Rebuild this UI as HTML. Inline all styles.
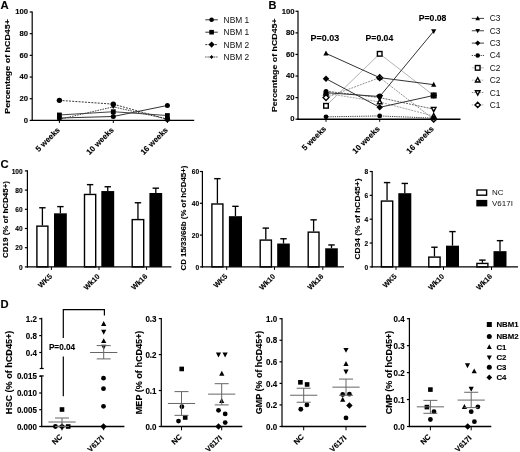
<!DOCTYPE html>
<html><head><meta charset="utf-8"><title>Figure</title>
<style>
html,body{margin:0;padding:0;background:#fff;}
body{width:520px;height:452px;overflow:hidden;}
svg{display:block;font-family:"Liberation Sans", sans-serif;filter:blur(0.3px);}
</style></head>
<body>
<svg width="520" height="452" viewBox="0 0 520 452">
<rect width="520" height="452" fill="#fff"/>
<text x="0.50" y="8.70" font-size="11.3" font-weight="bold" text-anchor="start" fill="#000" stroke="#000" stroke-width="0.12">A</text>
<line x1="32.20" y1="11.40" x2="32.20" y2="121.00" stroke="#000" stroke-width="1.2" stroke-linecap="butt"/>
<line x1="29.70" y1="120.40" x2="32.20" y2="120.40" stroke="#000" stroke-width="1.2" stroke-linecap="butt"/>
<text x="28.00" y="122.61" font-size="8.09" font-weight="bold" text-anchor="end" textLength="4.28" lengthAdjust="spacingAndGlyphs" fill="#000" stroke="#000" stroke-width="0.12">0</text>
<line x1="29.70" y1="98.72" x2="32.20" y2="98.72" stroke="#000" stroke-width="1.2" stroke-linecap="butt"/>
<text x="28.00" y="100.93" font-size="8.09" font-weight="bold" text-anchor="end" textLength="8.56" lengthAdjust="spacingAndGlyphs" fill="#000" stroke="#000" stroke-width="0.12">20</text>
<line x1="29.70" y1="77.04" x2="32.20" y2="77.04" stroke="#000" stroke-width="1.2" stroke-linecap="butt"/>
<text x="28.00" y="79.25" font-size="8.09" font-weight="bold" text-anchor="end" textLength="8.56" lengthAdjust="spacingAndGlyphs" fill="#000" stroke="#000" stroke-width="0.12">40</text>
<line x1="29.70" y1="55.36" x2="32.20" y2="55.36" stroke="#000" stroke-width="1.2" stroke-linecap="butt"/>
<text x="28.00" y="57.57" font-size="8.09" font-weight="bold" text-anchor="end" textLength="8.56" lengthAdjust="spacingAndGlyphs" fill="#000" stroke="#000" stroke-width="0.12">60</text>
<line x1="29.70" y1="33.68" x2="32.20" y2="33.68" stroke="#000" stroke-width="1.2" stroke-linecap="butt"/>
<text x="28.00" y="35.89" font-size="8.09" font-weight="bold" text-anchor="end" textLength="8.56" lengthAdjust="spacingAndGlyphs" fill="#000" stroke="#000" stroke-width="0.12">80</text>
<line x1="29.70" y1="12.00" x2="32.20" y2="12.00" stroke="#000" stroke-width="1.2" stroke-linecap="butt"/>
<text x="28.00" y="14.21" font-size="8.09" font-weight="bold" text-anchor="end" textLength="12.84" lengthAdjust="spacingAndGlyphs" fill="#000" stroke="#000" stroke-width="0.12">100</text>
<line x1="31.60" y1="120.40" x2="194.20" y2="120.40" stroke="#000" stroke-width="1.4" stroke-linecap="butt"/>
<line x1="59.40" y1="120.40" x2="59.40" y2="123.00" stroke="#000" stroke-width="1.0" stroke-linecap="butt"/>
<line x1="113.30" y1="120.40" x2="113.30" y2="123.00" stroke="#000" stroke-width="1.0" stroke-linecap="butt"/>
<line x1="167.40" y1="120.40" x2="167.40" y2="123.00" stroke="#000" stroke-width="1.0" stroke-linecap="butt"/>
<text x="9.88" y="66.40" font-size="8.0" font-weight="bold" text-anchor="middle" transform="rotate(-90 9.88 66.40)" textLength="94.5" lengthAdjust="spacingAndGlyphs" fill="#000" stroke="#000" stroke-width="0.12">Percentage of hCD45+</text>
<text x="60.50" y="130.50" font-size="8.0" font-weight="bold" text-anchor="end" transform="rotate(-45 60.50 130.50)" fill="#000" stroke="#000" stroke-width="0.12">5 weeks</text>
<text x="114.40" y="130.50" font-size="8.0" font-weight="bold" text-anchor="end" transform="rotate(-45 114.40 130.50)" fill="#000" stroke="#000" stroke-width="0.12">10 weeks</text>
<text x="168.50" y="130.50" font-size="8.0" font-weight="bold" text-anchor="end" transform="rotate(-45 168.50 130.50)" fill="#000" stroke="#000" stroke-width="0.12">16 weeks</text>
<polyline points="59.40,118.02 113.30,116.50 167.40,105.44" fill="none" stroke="#333" stroke-width="1.0"/>
<polyline points="59.40,114.98 113.30,111.73 167.40,115.52" fill="none" stroke="#444" stroke-width="1.0"/>
<polyline points="59.40,100.35 113.30,104.14 167.40,119.32" fill="none" stroke="#222" stroke-width="0.9" stroke-dasharray="2,1.2"/>
<polyline points="59.40,119.32 113.30,106.85 167.40,119.10" fill="none" stroke="#333" stroke-width="0.9" stroke-dasharray="1.6,1"/>
<circle cx="59.40" cy="118.02" r="2.50" fill="#000"/>
<circle cx="113.30" cy="116.50" r="2.50" fill="#000"/>
<circle cx="167.40" cy="105.44" r="2.50" fill="#000"/>
<rect x="57.00" y="112.58" width="4.80" height="4.80" fill="#000"/>
<rect x="110.90" y="109.33" width="4.80" height="4.80" fill="#000"/>
<rect x="165.00" y="113.12" width="4.80" height="4.80" fill="#000"/>
<circle cx="59.40" cy="100.35" r="2.70" fill="#000"/>
<circle cx="113.30" cy="104.14" r="2.70" fill="#000"/>
<circle cx="167.40" cy="119.32" r="2.70" fill="#000"/>
<circle cx="59.40" cy="119.32" r="1.2" fill="#000"/>
<line x1="57.40" y1="119.32" x2="61.40" y2="119.32" stroke="#000" stroke-width="0.8" stroke-linecap="butt"/>
<line x1="59.40" y1="117.32" x2="59.40" y2="121.32" stroke="#000" stroke-width="0.8" stroke-linecap="butt"/>
<circle cx="113.30" cy="106.85" r="1.2" fill="#000"/>
<line x1="111.30" y1="106.85" x2="115.30" y2="106.85" stroke="#000" stroke-width="0.8" stroke-linecap="butt"/>
<line x1="113.30" y1="104.85" x2="113.30" y2="108.85" stroke="#000" stroke-width="0.8" stroke-linecap="butt"/>
<circle cx="167.40" cy="119.10" r="1.2" fill="#000"/>
<line x1="165.40" y1="119.10" x2="169.40" y2="119.10" stroke="#000" stroke-width="0.8" stroke-linecap="butt"/>
<line x1="167.40" y1="117.10" x2="167.40" y2="121.10" stroke="#000" stroke-width="0.8" stroke-linecap="butt"/>
<line x1="205.30" y1="19.80" x2="217.80" y2="19.80" stroke="#333" stroke-width="1.0" stroke-linecap="butt"/>
<circle cx="211.60" cy="19.80" r="2.30" fill="#000"/>
<text x="223.60" y="22.80" font-size="8.4" font-weight="normal" text-anchor="start" fill="#111">NBM 1</text>
<line x1="205.30" y1="32.20" x2="217.80" y2="32.20" stroke="#333" stroke-width="1.0" stroke-linecap="butt"/>
<rect x="209.30" y="29.90" width="4.60" height="4.60" fill="#000"/>
<text x="223.60" y="35.20" font-size="8.4" font-weight="normal" text-anchor="start" fill="#111">NBM 1</text>
<line x1="205.30" y1="44.60" x2="217.80" y2="44.60" stroke="#333" stroke-width="1.0" stroke-dasharray="2,1.2" stroke-linecap="butt"/>
<polygon points="211.60,41.50 214.70,44.60 211.60,47.70 208.50,44.60" fill="#000"/>
<text x="223.60" y="47.60" font-size="8.4" font-weight="normal" text-anchor="start" fill="#111">NBM 2</text>
<line x1="205.30" y1="57.00" x2="217.80" y2="57.00" stroke="#333" stroke-width="1.0" stroke-dasharray="1.2,1" stroke-linecap="butt"/>
<circle cx="211.60" cy="57.00" r="1.2" fill="#000"/>
<line x1="209.60" y1="57.00" x2="213.60" y2="57.00" stroke="#000" stroke-width="0.8" stroke-linecap="butt"/>
<line x1="211.60" y1="55.00" x2="211.60" y2="59.00" stroke="#000" stroke-width="0.8" stroke-linecap="butt"/>
<text x="223.60" y="60.00" font-size="8.4" font-weight="normal" text-anchor="start" fill="#111">NBM 2</text>
<text x="268.60" y="8.80" font-size="11.0" font-weight="bold" text-anchor="start" fill="#000" stroke="#000" stroke-width="0.12">B</text>
<line x1="298.00" y1="10.70" x2="298.00" y2="119.80" stroke="#000" stroke-width="1.2" stroke-linecap="butt"/>
<line x1="295.50" y1="119.20" x2="298.00" y2="119.20" stroke="#000" stroke-width="1.2" stroke-linecap="butt"/>
<text x="294.50" y="121.41" font-size="8.09" font-weight="bold" text-anchor="end" textLength="4.28" lengthAdjust="spacingAndGlyphs" fill="#000" stroke="#000" stroke-width="0.12">0</text>
<line x1="295.50" y1="97.62" x2="298.00" y2="97.62" stroke="#000" stroke-width="1.2" stroke-linecap="butt"/>
<text x="294.50" y="99.83" font-size="8.09" font-weight="bold" text-anchor="end" textLength="8.56" lengthAdjust="spacingAndGlyphs" fill="#000" stroke="#000" stroke-width="0.12">20</text>
<line x1="295.50" y1="76.04" x2="298.00" y2="76.04" stroke="#000" stroke-width="1.2" stroke-linecap="butt"/>
<text x="294.50" y="78.25" font-size="8.09" font-weight="bold" text-anchor="end" textLength="8.56" lengthAdjust="spacingAndGlyphs" fill="#000" stroke="#000" stroke-width="0.12">40</text>
<line x1="295.50" y1="54.46" x2="298.00" y2="54.46" stroke="#000" stroke-width="1.2" stroke-linecap="butt"/>
<text x="294.50" y="56.67" font-size="8.09" font-weight="bold" text-anchor="end" textLength="8.56" lengthAdjust="spacingAndGlyphs" fill="#000" stroke="#000" stroke-width="0.12">60</text>
<line x1="295.50" y1="32.88" x2="298.00" y2="32.88" stroke="#000" stroke-width="1.2" stroke-linecap="butt"/>
<text x="294.50" y="35.09" font-size="8.09" font-weight="bold" text-anchor="end" textLength="8.56" lengthAdjust="spacingAndGlyphs" fill="#000" stroke="#000" stroke-width="0.12">80</text>
<line x1="295.50" y1="11.30" x2="298.00" y2="11.30" stroke="#000" stroke-width="1.2" stroke-linecap="butt"/>
<text x="294.50" y="13.51" font-size="8.09" font-weight="bold" text-anchor="end" textLength="12.84" lengthAdjust="spacingAndGlyphs" fill="#000" stroke="#000" stroke-width="0.12">100</text>
<line x1="297.40" y1="119.20" x2="460.50" y2="119.20" stroke="#000" stroke-width="1.4" stroke-linecap="butt"/>
<line x1="326.00" y1="119.20" x2="326.00" y2="121.80" stroke="#000" stroke-width="1.0" stroke-linecap="butt"/>
<line x1="379.70" y1="119.20" x2="379.70" y2="121.80" stroke="#000" stroke-width="1.0" stroke-linecap="butt"/>
<line x1="433.70" y1="119.20" x2="433.70" y2="121.80" stroke="#000" stroke-width="1.0" stroke-linecap="butt"/>
<text x="276.74" y="65.20" font-size="7.9" font-weight="bold" text-anchor="middle" transform="rotate(-90 276.74 65.20)" textLength="93.7" lengthAdjust="spacingAndGlyphs" fill="#000" stroke="#000" stroke-width="0.12">Percentage of hCD45+</text>
<text x="326.70" y="129.30" font-size="8.0" font-weight="bold" text-anchor="end" transform="rotate(-45 326.70 129.30)" fill="#000" stroke="#000" stroke-width="0.12">5 weeks</text>
<text x="380.40" y="129.30" font-size="8.0" font-weight="bold" text-anchor="end" transform="rotate(-45 380.40 129.30)" fill="#000" stroke="#000" stroke-width="0.12">10 weeks</text>
<text x="434.40" y="129.30" font-size="8.0" font-weight="bold" text-anchor="end" transform="rotate(-45 434.40 129.30)" fill="#000" stroke="#000" stroke-width="0.12">16 weeks</text>
<text x="310.60" y="41.40" font-size="8.5" font-weight="bold" text-anchor="start" textLength="28.6" lengthAdjust="spacingAndGlyphs" fill="#000" stroke="#000" stroke-width="0.12">P=0.03</text>
<text x="365.60" y="41.40" font-size="8.5" font-weight="bold" text-anchor="start" textLength="27.6" lengthAdjust="spacingAndGlyphs" fill="#000" stroke="#000" stroke-width="0.12">P=0.04</text>
<text x="418.80" y="20.80" font-size="8.5" font-weight="bold" text-anchor="start" textLength="27.6" lengthAdjust="spacingAndGlyphs" fill="#000" stroke="#000" stroke-width="0.12">P=0.08</text>
<polyline points="326.00,105.82 379.70,53.81 433.70,95.46" fill="none" stroke="#aaa" stroke-width="0.9"/>
<polyline points="326.00,93.30 379.70,101.94 433.70,116.07" fill="none" stroke="#999" stroke-width="0.9" stroke-dasharray="2,1"/>
<polyline points="326.00,97.62 379.70,77.66 433.70,119.20" fill="none" stroke="#888" stroke-width="0.9" stroke-dasharray="2,1"/>
<polyline points="326.00,91.15 379.70,97.62 433.70,109.17" fill="none" stroke="#555" stroke-width="0.9" stroke-dasharray="2,1"/>
<polyline points="326.00,116.83 379.70,115.96 433.70,118.12" fill="none" stroke="#222" stroke-width="0.9" stroke-dasharray="1.2,1"/>
<polyline points="326.00,53.38 379.70,77.66 433.70,84.67" fill="none" stroke="#333" stroke-width="1.0"/>
<polyline points="326.00,92.66 379.70,96.54 433.70,31.26" fill="none" stroke="#333" stroke-width="1.0"/>
<polyline points="326.00,78.74 379.70,107.33 433.70,95.46" fill="none" stroke="#333" stroke-width="1.0"/>
<rect x="323.70" y="103.52" width="4.60" height="4.60" fill="#fff" stroke="#000" stroke-width="1.4"/>
<rect x="377.40" y="51.51" width="4.60" height="4.60" fill="#fff" stroke="#000" stroke-width="1.4"/>
<rect x="431.40" y="93.16" width="4.60" height="4.60" fill="#fff" stroke="#000" stroke-width="1.4"/>
<polygon points="326.00,90.77 328.30,95.14 323.70,95.14" fill="#fff" stroke="#000" stroke-width="1.4"/>
<polygon points="379.70,99.41 382.00,103.78 377.40,103.78" fill="#fff" stroke="#000" stroke-width="1.4"/>
<polygon points="433.70,113.54 436.00,117.91 431.40,117.91" fill="#fff" stroke="#000" stroke-width="1.4"/>
<polygon points="326.00,94.75 328.88,97.62 326.00,100.50 323.12,97.62" fill="#fff" stroke="#000" stroke-width="1.4"/>
<polygon points="379.70,74.78 382.57,77.66 379.70,80.53 376.82,77.66" fill="#fff" stroke="#000" stroke-width="1.4"/>
<polygon points="433.70,116.33 436.57,119.20 433.70,122.08 430.82,119.20" fill="#fff" stroke="#000" stroke-width="1.4"/>
<polygon points="379.70,100.15 382.00,95.78 377.40,95.78" fill="#fff" stroke="#000" stroke-width="1.4"/>
<polygon points="433.70,111.70 436.00,107.33 431.40,107.33" fill="#fff" stroke="#000" stroke-width="1.4"/>
<circle cx="326.00" cy="116.83" r="2.40" fill="#000"/>
<circle cx="379.70" cy="115.96" r="2.40" fill="#000"/>
<circle cx="433.70" cy="118.12" r="2.40" fill="#000"/>
<polygon points="326.00,50.52 328.60,55.46 323.40,55.46" fill="#000"/>
<polygon points="379.70,74.80 382.30,79.74 377.10,79.74" fill="#000"/>
<polygon points="433.70,81.81 436.30,86.75 431.10,86.75" fill="#000"/>
<polygon points="379.70,99.40 382.30,94.46 377.10,94.46" fill="#000"/>
<polygon points="433.70,34.12 436.30,29.18 431.10,29.18" fill="#000"/>
<polygon points="326.00,75.52 329.22,78.74 326.00,81.96 322.78,78.74" fill="#000"/>
<polygon points="379.70,104.11 382.92,107.33 379.70,110.55 376.48,107.33" fill="#000"/>
<polygon points="433.70,92.24 436.92,95.46 433.70,98.68 430.48,95.46" fill="#000"/>
<circle cx="326.00" cy="91.58" r="2.50" fill="#000"/>
<circle cx="326.00" cy="93.30" r="2.50" fill="#000"/>
<circle cx="379.70" cy="95.89" r="2.50" fill="#000"/>
<line x1="471.80" y1="18.40" x2="484.00" y2="18.40" stroke="#444" stroke-width="1.0" stroke-linecap="butt"/>
<polygon points="477.70,15.87 480.00,20.24 475.40,20.24" fill="#000"/>
<text x="489.80" y="21.40" font-size="8.4" font-weight="normal" text-anchor="start" fill="#111">C3</text>
<line x1="471.80" y1="30.76" x2="484.00" y2="30.76" stroke="#444" stroke-width="1.0" stroke-linecap="butt"/>
<polygon points="477.70,33.29 480.00,28.92 475.40,28.92" fill="#000"/>
<text x="489.80" y="33.76" font-size="8.4" font-weight="normal" text-anchor="start" fill="#111">C3</text>
<line x1="471.80" y1="43.12" x2="484.00" y2="43.12" stroke="#444" stroke-width="1.0" stroke-linecap="butt"/>
<polygon points="477.70,40.47 480.34,43.12 477.70,45.77 475.06,43.12" fill="#000"/>
<text x="489.80" y="46.12" font-size="8.4" font-weight="normal" text-anchor="start" fill="#111">C3</text>
<line x1="471.80" y1="55.48" x2="484.00" y2="55.48" stroke="#444" stroke-width="1.0" stroke-dasharray="1.2,1" stroke-linecap="butt"/>
<circle cx="477.70" cy="55.48" r="2.30" fill="#000"/>
<text x="489.80" y="58.48" font-size="8.4" font-weight="normal" text-anchor="start" fill="#111">C4</text>
<line x1="471.80" y1="67.84" x2="484.00" y2="67.84" stroke="#bbb" stroke-width="1.0" stroke-linecap="butt"/>
<rect x="475.40" y="65.54" width="4.60" height="4.60" fill="#fff" stroke="#000" stroke-width="1.4"/>
<text x="489.80" y="70.84" font-size="8.4" font-weight="normal" text-anchor="start" fill="#111">C2</text>
<line x1="471.80" y1="80.20" x2="484.00" y2="80.20" stroke="#aaa" stroke-width="1.0" stroke-dasharray="1.5,1" stroke-linecap="butt"/>
<polygon points="477.70,77.67 480.00,82.04 475.40,82.04" fill="#fff" stroke="#000" stroke-width="1.4"/>
<text x="489.80" y="83.20" font-size="8.4" font-weight="normal" text-anchor="start" fill="#111">C2</text>
<line x1="471.80" y1="92.56" x2="484.00" y2="92.56" stroke="#888" stroke-width="1.0" stroke-dasharray="1.5,1" stroke-linecap="butt"/>
<polygon points="477.70,95.09 480.00,90.72 475.40,90.72" fill="#fff" stroke="#000" stroke-width="1.4"/>
<text x="489.80" y="95.56" font-size="8.4" font-weight="normal" text-anchor="start" fill="#111">C1</text>
<line x1="471.80" y1="104.92" x2="484.00" y2="104.92" stroke="#aaa" stroke-width="1.0" stroke-dasharray="1.5,1" stroke-linecap="butt"/>
<polygon points="477.70,102.27 480.34,104.92 477.70,107.56 475.06,104.92" fill="#fff" stroke="#000" stroke-width="1.4"/>
<text x="489.80" y="107.92" font-size="8.4" font-weight="normal" text-anchor="start" fill="#111">C1</text>
<text x="0.50" y="168.30" font-size="11.3" font-weight="bold" text-anchor="start" fill="#000" stroke="#000" stroke-width="0.12">C</text>
<line x1="27.40" y1="170.30" x2="27.40" y2="267.50" stroke="#000" stroke-width="1.2" stroke-linecap="butt"/>
<line x1="24.90" y1="266.90" x2="27.40" y2="266.90" stroke="#000" stroke-width="1.2" stroke-linecap="butt"/>
<text x="22.70" y="269.51" font-size="7.26" font-weight="bold" text-anchor="end" textLength="3.67" lengthAdjust="spacingAndGlyphs" fill="#000" stroke="#000" stroke-width="0.12">0</text>
<line x1="24.90" y1="247.70" x2="27.40" y2="247.70" stroke="#000" stroke-width="1.2" stroke-linecap="butt"/>
<text x="22.70" y="250.31" font-size="7.26" font-weight="bold" text-anchor="end" textLength="7.34" lengthAdjust="spacingAndGlyphs" fill="#000" stroke="#000" stroke-width="0.12">20</text>
<line x1="24.90" y1="228.50" x2="27.40" y2="228.50" stroke="#000" stroke-width="1.2" stroke-linecap="butt"/>
<text x="22.70" y="231.11" font-size="7.26" font-weight="bold" text-anchor="end" textLength="7.34" lengthAdjust="spacingAndGlyphs" fill="#000" stroke="#000" stroke-width="0.12">40</text>
<line x1="24.90" y1="209.30" x2="27.40" y2="209.30" stroke="#000" stroke-width="1.2" stroke-linecap="butt"/>
<text x="22.70" y="211.91" font-size="7.26" font-weight="bold" text-anchor="end" textLength="7.34" lengthAdjust="spacingAndGlyphs" fill="#000" stroke="#000" stroke-width="0.12">60</text>
<line x1="24.90" y1="190.10" x2="27.40" y2="190.10" stroke="#000" stroke-width="1.2" stroke-linecap="butt"/>
<text x="22.70" y="192.71" font-size="7.26" font-weight="bold" text-anchor="end" textLength="7.34" lengthAdjust="spacingAndGlyphs" fill="#000" stroke="#000" stroke-width="0.12">80</text>
<line x1="24.90" y1="170.90" x2="27.40" y2="170.90" stroke="#000" stroke-width="1.2" stroke-linecap="butt"/>
<text x="22.70" y="173.51" font-size="7.26" font-weight="bold" text-anchor="end" textLength="11.01" lengthAdjust="spacingAndGlyphs" fill="#000" stroke="#000" stroke-width="0.12">100</text>
<line x1="42.40" y1="225.43" x2="42.40" y2="207.76" stroke="#000" stroke-width="1.3" stroke-linecap="butt"/>
<line x1="39.20" y1="207.76" x2="45.60" y2="207.76" stroke="#000" stroke-width="1.4" stroke-linecap="butt"/>
<rect x="36.90" y="226.13" width="11.00" height="40.77" fill="#fff" stroke="#000" stroke-width="1.4"/>
<line x1="60.40" y1="213.33" x2="60.40" y2="206.61" stroke="#000" stroke-width="1.3" stroke-linecap="butt"/>
<line x1="57.20" y1="206.61" x2="63.60" y2="206.61" stroke="#000" stroke-width="1.4" stroke-linecap="butt"/>
<rect x="54.00" y="213.33" width="12.80" height="53.57" fill="#000"/>
<line x1="90.10" y1="193.75" x2="90.10" y2="184.63" stroke="#000" stroke-width="1.3" stroke-linecap="butt"/>
<line x1="86.90" y1="184.63" x2="93.30" y2="184.63" stroke="#000" stroke-width="1.4" stroke-linecap="butt"/>
<rect x="84.50" y="194.45" width="11.20" height="72.45" fill="#fff" stroke="#000" stroke-width="1.4"/>
<line x1="107.75" y1="191.06" x2="107.75" y2="186.74" stroke="#000" stroke-width="1.3" stroke-linecap="butt"/>
<line x1="104.55" y1="186.74" x2="110.95" y2="186.74" stroke="#000" stroke-width="1.4" stroke-linecap="butt"/>
<rect x="101.30" y="191.06" width="12.90" height="75.84" fill="#000"/>
<line x1="137.95" y1="218.90" x2="137.95" y2="202.77" stroke="#000" stroke-width="1.3" stroke-linecap="butt"/>
<line x1="134.75" y1="202.77" x2="141.15" y2="202.77" stroke="#000" stroke-width="1.4" stroke-linecap="butt"/>
<rect x="132.20" y="219.60" width="11.50" height="47.30" fill="#fff" stroke="#000" stroke-width="1.4"/>
<line x1="155.80" y1="192.98" x2="155.80" y2="188.18" stroke="#000" stroke-width="1.3" stroke-linecap="butt"/>
<line x1="152.60" y1="188.18" x2="159.00" y2="188.18" stroke="#000" stroke-width="1.4" stroke-linecap="butt"/>
<rect x="149.40" y="192.98" width="12.80" height="73.92" fill="#000"/>
<line x1="26.80" y1="266.90" x2="171.40" y2="266.90" stroke="#000" stroke-width="1.3" stroke-linecap="butt"/>
<line x1="51.40" y1="266.90" x2="51.40" y2="269.90" stroke="#000" stroke-width="1.0" stroke-linecap="butt"/>
<line x1="99.00" y1="266.90" x2="99.00" y2="269.90" stroke="#000" stroke-width="1.0" stroke-linecap="butt"/>
<line x1="146.60" y1="266.90" x2="146.60" y2="269.90" stroke="#000" stroke-width="1.0" stroke-linecap="butt"/>
<text x="7.82" y="219.50" font-size="8.1" font-weight="bold" text-anchor="middle" transform="rotate(-90 7.82 219.50)" textLength="77" lengthAdjust="spacingAndGlyphs" fill="#000" stroke="#000" stroke-width="0.12">CD19 (% of hCD45+)</text>
<text x="52.60" y="276.90" font-size="7.3" font-weight="bold" text-anchor="end" transform="rotate(-45 52.60 276.90)" fill="#000" stroke="#000" stroke-width="0.12">WK5</text>
<text x="100.20" y="276.90" font-size="7.3" font-weight="bold" text-anchor="end" transform="rotate(-45 100.20 276.90)" fill="#000" stroke="#000" stroke-width="0.12">Wk10</text>
<text x="147.80" y="276.90" font-size="7.3" font-weight="bold" text-anchor="end" transform="rotate(-45 147.80 276.90)" fill="#000" stroke="#000" stroke-width="0.12">Wk16</text>
<line x1="202.40" y1="170.90" x2="202.40" y2="267.50" stroke="#000" stroke-width="1.2" stroke-linecap="butt"/>
<line x1="199.90" y1="266.90" x2="202.40" y2="266.90" stroke="#000" stroke-width="1.2" stroke-linecap="butt"/>
<text x="199.10" y="269.51" font-size="7.26" font-weight="bold" text-anchor="end" textLength="3.67" lengthAdjust="spacingAndGlyphs" fill="#000" stroke="#000" stroke-width="0.12">0</text>
<line x1="199.90" y1="235.10" x2="202.40" y2="235.10" stroke="#000" stroke-width="1.2" stroke-linecap="butt"/>
<text x="199.10" y="237.71" font-size="7.26" font-weight="bold" text-anchor="end" textLength="7.34" lengthAdjust="spacingAndGlyphs" fill="#000" stroke="#000" stroke-width="0.12">20</text>
<line x1="199.90" y1="203.30" x2="202.40" y2="203.30" stroke="#000" stroke-width="1.2" stroke-linecap="butt"/>
<text x="199.10" y="205.91" font-size="7.26" font-weight="bold" text-anchor="end" textLength="7.34" lengthAdjust="spacingAndGlyphs" fill="#000" stroke="#000" stroke-width="0.12">40</text>
<line x1="199.90" y1="171.50" x2="202.40" y2="171.50" stroke="#000" stroke-width="1.2" stroke-linecap="butt"/>
<text x="199.10" y="174.11" font-size="7.26" font-weight="bold" text-anchor="end" textLength="7.34" lengthAdjust="spacingAndGlyphs" fill="#000" stroke="#000" stroke-width="0.12">60</text>
<line x1="217.40" y1="203.30" x2="217.40" y2="178.66" stroke="#000" stroke-width="1.3" stroke-linecap="butt"/>
<line x1="214.20" y1="178.66" x2="220.60" y2="178.66" stroke="#000" stroke-width="1.4" stroke-linecap="butt"/>
<rect x="211.90" y="204.00" width="11.00" height="62.90" fill="#fff" stroke="#000" stroke-width="1.4"/>
<line x1="235.45" y1="216.18" x2="235.45" y2="206.32" stroke="#000" stroke-width="1.3" stroke-linecap="butt"/>
<line x1="232.25" y1="206.32" x2="238.65" y2="206.32" stroke="#000" stroke-width="1.4" stroke-linecap="butt"/>
<rect x="228.90" y="216.18" width="13.10" height="50.72" fill="#000"/>
<line x1="265.80" y1="239.39" x2="265.80" y2="228.10" stroke="#000" stroke-width="1.3" stroke-linecap="butt"/>
<line x1="262.60" y1="228.10" x2="269.00" y2="228.10" stroke="#000" stroke-width="1.4" stroke-linecap="butt"/>
<rect x="260.20" y="240.09" width="11.20" height="26.81" fill="#fff" stroke="#000" stroke-width="1.4"/>
<line x1="283.50" y1="243.53" x2="283.50" y2="238.76" stroke="#000" stroke-width="1.3" stroke-linecap="butt"/>
<line x1="280.30" y1="238.76" x2="286.70" y2="238.76" stroke="#000" stroke-width="1.4" stroke-linecap="butt"/>
<rect x="277.20" y="243.53" width="12.60" height="23.37" fill="#000"/>
<line x1="313.60" y1="231.44" x2="313.60" y2="219.84" stroke="#000" stroke-width="1.3" stroke-linecap="butt"/>
<line x1="310.40" y1="219.84" x2="316.80" y2="219.84" stroke="#000" stroke-width="1.4" stroke-linecap="butt"/>
<rect x="308.20" y="232.14" width="10.80" height="34.76" fill="#fff" stroke="#000" stroke-width="1.4"/>
<line x1="331.50" y1="248.30" x2="331.50" y2="244.96" stroke="#000" stroke-width="1.3" stroke-linecap="butt"/>
<line x1="328.30" y1="244.96" x2="334.70" y2="244.96" stroke="#000" stroke-width="1.4" stroke-linecap="butt"/>
<rect x="325.20" y="248.30" width="12.60" height="18.60" fill="#000"/>
<line x1="201.80" y1="266.90" x2="344.00" y2="266.90" stroke="#000" stroke-width="1.3" stroke-linecap="butt"/>
<line x1="226.70" y1="266.90" x2="226.70" y2="269.90" stroke="#000" stroke-width="1.0" stroke-linecap="butt"/>
<line x1="274.50" y1="266.90" x2="274.50" y2="269.90" stroke="#000" stroke-width="1.0" stroke-linecap="butt"/>
<line x1="322.80" y1="266.90" x2="322.80" y2="269.90" stroke="#000" stroke-width="1.0" stroke-linecap="butt"/>
<text x="186.48" y="218.00" font-size="8.0" font-weight="bold" text-anchor="middle" transform="rotate(-90 186.48 218.00)" textLength="105" lengthAdjust="spacingAndGlyphs" fill="#000" stroke="#000" stroke-width="0.12">CD 15/33/66b (% of hCD45+)</text>
<text x="227.90" y="276.90" font-size="7.3" font-weight="bold" text-anchor="end" transform="rotate(-45 227.90 276.90)" fill="#000" stroke="#000" stroke-width="0.12">WK5</text>
<text x="275.70" y="276.90" font-size="7.3" font-weight="bold" text-anchor="end" transform="rotate(-45 275.70 276.90)" fill="#000" stroke="#000" stroke-width="0.12">Wk10</text>
<text x="324.00" y="276.90" font-size="7.3" font-weight="bold" text-anchor="end" transform="rotate(-45 324.00 276.90)" fill="#000" stroke="#000" stroke-width="0.12">Wk16</text>
<line x1="372.20" y1="170.90" x2="372.20" y2="267.50" stroke="#000" stroke-width="1.2" stroke-linecap="butt"/>
<line x1="369.70" y1="266.90" x2="372.20" y2="266.90" stroke="#000" stroke-width="1.2" stroke-linecap="butt"/>
<text x="368.20" y="269.51" font-size="7.26" font-weight="bold" text-anchor="end" textLength="3.67" lengthAdjust="spacingAndGlyphs" fill="#000" stroke="#000" stroke-width="0.12">0</text>
<line x1="369.70" y1="243.05" x2="372.20" y2="243.05" stroke="#000" stroke-width="1.2" stroke-linecap="butt"/>
<text x="368.20" y="245.66" font-size="7.26" font-weight="bold" text-anchor="end" textLength="3.67" lengthAdjust="spacingAndGlyphs" fill="#000" stroke="#000" stroke-width="0.12">2</text>
<line x1="369.70" y1="219.20" x2="372.20" y2="219.20" stroke="#000" stroke-width="1.2" stroke-linecap="butt"/>
<text x="368.20" y="221.81" font-size="7.26" font-weight="bold" text-anchor="end" textLength="3.67" lengthAdjust="spacingAndGlyphs" fill="#000" stroke="#000" stroke-width="0.12">4</text>
<line x1="369.70" y1="195.35" x2="372.20" y2="195.35" stroke="#000" stroke-width="1.2" stroke-linecap="butt"/>
<text x="368.20" y="197.96" font-size="7.26" font-weight="bold" text-anchor="end" textLength="3.67" lengthAdjust="spacingAndGlyphs" fill="#000" stroke="#000" stroke-width="0.12">6</text>
<line x1="369.70" y1="171.50" x2="372.20" y2="171.50" stroke="#000" stroke-width="1.2" stroke-linecap="butt"/>
<text x="368.20" y="174.11" font-size="7.26" font-weight="bold" text-anchor="end" textLength="3.67" lengthAdjust="spacingAndGlyphs" fill="#000" stroke="#000" stroke-width="0.12">8</text>
<line x1="387.05" y1="200.36" x2="387.05" y2="182.59" stroke="#000" stroke-width="1.3" stroke-linecap="butt"/>
<line x1="383.85" y1="182.59" x2="390.25" y2="182.59" stroke="#000" stroke-width="1.4" stroke-linecap="butt"/>
<rect x="381.40" y="201.06" width="11.30" height="65.84" fill="#fff" stroke="#000" stroke-width="1.4"/>
<line x1="404.80" y1="193.20" x2="404.80" y2="183.43" stroke="#000" stroke-width="1.3" stroke-linecap="butt"/>
<line x1="401.60" y1="183.43" x2="408.00" y2="183.43" stroke="#000" stroke-width="1.4" stroke-linecap="butt"/>
<rect x="398.30" y="193.20" width="13.00" height="73.70" fill="#000"/>
<line x1="434.45" y1="256.41" x2="434.45" y2="247.22" stroke="#000" stroke-width="1.3" stroke-linecap="butt"/>
<line x1="431.25" y1="247.22" x2="437.65" y2="247.22" stroke="#000" stroke-width="1.4" stroke-linecap="butt"/>
<rect x="428.80" y="257.11" width="11.30" height="9.79" fill="#fff" stroke="#000" stroke-width="1.4"/>
<line x1="452.50" y1="245.67" x2="452.50" y2="231.60" stroke="#000" stroke-width="1.3" stroke-linecap="butt"/>
<line x1="449.30" y1="231.60" x2="455.70" y2="231.60" stroke="#000" stroke-width="1.4" stroke-linecap="butt"/>
<rect x="446.00" y="245.67" width="13.00" height="21.23" fill="#000"/>
<line x1="482.40" y1="262.73" x2="482.40" y2="260.10" stroke="#000" stroke-width="1.3" stroke-linecap="butt"/>
<line x1="479.20" y1="260.10" x2="485.60" y2="260.10" stroke="#000" stroke-width="1.4" stroke-linecap="butt"/>
<rect x="476.90" y="263.43" width="11.00" height="3.47" fill="#fff" stroke="#000" stroke-width="1.4"/>
<line x1="500.00" y1="251.16" x2="500.00" y2="240.66" stroke="#000" stroke-width="1.3" stroke-linecap="butt"/>
<line x1="496.80" y1="240.66" x2="503.20" y2="240.66" stroke="#000" stroke-width="1.4" stroke-linecap="butt"/>
<rect x="493.50" y="251.16" width="13.00" height="15.74" fill="#000"/>
<line x1="371.60" y1="266.90" x2="518.00" y2="266.90" stroke="#000" stroke-width="1.3" stroke-linecap="butt"/>
<line x1="396.00" y1="266.90" x2="396.00" y2="269.90" stroke="#000" stroke-width="1.0" stroke-linecap="butt"/>
<line x1="443.50" y1="266.90" x2="443.50" y2="269.90" stroke="#000" stroke-width="1.0" stroke-linecap="butt"/>
<line x1="491.50" y1="266.90" x2="491.50" y2="269.90" stroke="#000" stroke-width="1.0" stroke-linecap="butt"/>
<text x="359.52" y="219.00" font-size="8.1" font-weight="bold" text-anchor="middle" transform="rotate(-90 359.52 219.00)" textLength="81" lengthAdjust="spacingAndGlyphs" fill="#000" stroke="#000" stroke-width="0.12">CD34  (% of hCD45+)</text>
<text x="397.20" y="276.90" font-size="7.3" font-weight="bold" text-anchor="end" transform="rotate(-45 397.20 276.90)" fill="#000" stroke="#000" stroke-width="0.12">WK5</text>
<text x="444.70" y="276.90" font-size="7.3" font-weight="bold" text-anchor="end" transform="rotate(-45 444.70 276.90)" fill="#000" stroke="#000" stroke-width="0.12">Wk10</text>
<text x="492.70" y="276.90" font-size="7.3" font-weight="bold" text-anchor="end" transform="rotate(-45 492.70 276.90)" fill="#000" stroke="#000" stroke-width="0.12">Wk16</text>
<rect x="477.0" y="190.0" width="9.6" height="5.2" fill="#fff" stroke="#000" stroke-width="1.4"/>
<rect x="476.3" y="199.9" width="11" height="6.5" fill="#000"/>
<text x="492.00" y="195.20" font-size="8.0" font-weight="normal" text-anchor="start" fill="#111">NC</text>
<text x="492.00" y="206.00" font-size="8.0" font-weight="normal" text-anchor="start" fill="#111">V617I</text>
<text x="0.60" y="307.80" font-size="11.2" font-weight="bold" text-anchor="start" fill="#000" stroke="#000" stroke-width="0.12">D</text>
<line x1="41.70" y1="317.70" x2="41.70" y2="368.50" stroke="#000" stroke-width="1.2" stroke-linecap="butt"/>
<line x1="39.70" y1="368.50" x2="43.70" y2="368.50" stroke="#000" stroke-width="1.2" stroke-linecap="butt"/>
<line x1="41.70" y1="375.90" x2="41.70" y2="426.50" stroke="#000" stroke-width="1.2" stroke-linecap="butt"/>
<line x1="39.70" y1="375.90" x2="43.70" y2="375.90" stroke="#000" stroke-width="1.2" stroke-linecap="butt"/>
<line x1="39.20" y1="318.70" x2="41.70" y2="318.70" stroke="#000" stroke-width="1.2" stroke-linecap="butt"/>
<text x="36.90" y="321.85" font-size="8.8" font-weight="bold" text-anchor="end" textLength="11.12" lengthAdjust="spacingAndGlyphs" fill="#000" stroke="#000" stroke-width="0.12">1.2</text>
<line x1="39.20" y1="335.60" x2="41.70" y2="335.60" stroke="#000" stroke-width="1.2" stroke-linecap="butt"/>
<text x="36.90" y="338.75" font-size="8.8" font-weight="bold" text-anchor="end" textLength="11.12" lengthAdjust="spacingAndGlyphs" fill="#000" stroke="#000" stroke-width="0.12">0.8</text>
<line x1="39.20" y1="352.50" x2="41.70" y2="352.50" stroke="#000" stroke-width="1.2" stroke-linecap="butt"/>
<text x="36.90" y="355.65" font-size="8.8" font-weight="bold" text-anchor="end" textLength="11.12" lengthAdjust="spacingAndGlyphs" fill="#000" stroke="#000" stroke-width="0.12">0.4</text>
<line x1="39.20" y1="376.30" x2="41.70" y2="376.30" stroke="#000" stroke-width="1.2" stroke-linecap="butt"/>
<text x="36.90" y="379.45" font-size="8.8" font-weight="bold" text-anchor="end" textLength="20.02" lengthAdjust="spacingAndGlyphs" fill="#000" stroke="#000" stroke-width="0.12">0.015</text>
<line x1="39.20" y1="393.00" x2="41.70" y2="393.00" stroke="#000" stroke-width="1.2" stroke-linecap="butt"/>
<text x="36.90" y="396.15" font-size="8.8" font-weight="bold" text-anchor="end" textLength="20.02" lengthAdjust="spacingAndGlyphs" fill="#000" stroke="#000" stroke-width="0.12">0.010</text>
<line x1="39.20" y1="409.70" x2="41.70" y2="409.70" stroke="#000" stroke-width="1.2" stroke-linecap="butt"/>
<text x="36.90" y="412.85" font-size="8.8" font-weight="bold" text-anchor="end" textLength="20.02" lengthAdjust="spacingAndGlyphs" fill="#000" stroke="#000" stroke-width="0.12">0.005</text>
<line x1="39.20" y1="426.50" x2="41.70" y2="426.50" stroke="#000" stroke-width="1.2" stroke-linecap="butt"/>
<text x="36.90" y="429.65" font-size="8.8" font-weight="bold" text-anchor="end" textLength="20.02" lengthAdjust="spacingAndGlyphs" fill="#000" stroke="#000" stroke-width="0.12">0.000</text>
<line x1="41.10" y1="426.50" x2="124.40" y2="426.50" stroke="#000" stroke-width="1.3" stroke-linecap="butt"/>
<line x1="62.00" y1="426.50" x2="62.00" y2="430.30" stroke="#000" stroke-width="1.0" stroke-linecap="butt"/>
<line x1="103.70" y1="426.50" x2="103.70" y2="430.30" stroke="#000" stroke-width="1.0" stroke-linecap="butt"/>
<text x="12.44" y="372.40" font-size="9.0" font-weight="bold" text-anchor="middle" transform="rotate(-90 12.44 372.40)" textLength="83.5" lengthAdjust="spacingAndGlyphs" fill="#000" stroke="#000" stroke-width="0.12">HSC (% of hCD45+)</text>
<text x="62.80" y="437.30" font-size="7.6" font-weight="bold" text-anchor="end" transform="rotate(-45 62.80 437.30)" fill="#000" stroke="#000" stroke-width="0.12">NC</text>
<text x="104.60" y="438.40" font-size="7.6" font-weight="bold" text-anchor="end" transform="rotate(-45 104.60 438.40)" fill="#000" stroke="#000" stroke-width="0.12">V617I</text>
<polyline points="63.30,338.00 63.30,309.60 104.40,309.60 104.40,315.40" fill="none" stroke="#000" stroke-width="1.2"/>
<line x1="63.30" y1="356.60" x2="63.30" y2="396.30" stroke="#000" stroke-width="1.2" stroke-linecap="butt"/>
<text x="48.90" y="350.20" font-size="8.2" font-weight="bold" text-anchor="start" textLength="26.2" lengthAdjust="spacingAndGlyphs" fill="#000" stroke="#000" stroke-width="0.12">P=0.04</text>
<rect x="59.70" y="407.20" width="4.60" height="4.60" fill="#000"/>
<circle cx="55.40" cy="426.50" r="2.40" fill="#000"/>
<polygon points="62.00,423.28 65.22,426.50 62.00,429.72 58.78,426.50" fill="#000"/>
<rect x="65.90" y="424.20" width="4.60" height="4.60" fill="#000"/>
<polygon points="103.70,321.04 106.30,325.98 101.10,325.98" fill="#000"/>
<polygon points="103.70,334.66 106.30,329.72 101.10,329.72" fill="#000"/>
<polygon points="103.70,338.14 106.30,343.08 101.10,343.08" fill="#000"/>
<polygon points="103.70,349.66 106.30,344.72 101.10,344.72" fill="#000"/>
<circle cx="103.50" cy="378.20" r="2.40" fill="#000"/>
<circle cx="103.50" cy="388.70" r="2.40" fill="#000"/>
<circle cx="103.50" cy="406.30" r="2.40" fill="#000"/>
<polygon points="103.50,423.28 106.72,426.50 103.50,429.72 100.28,426.50" fill="#000"/>
<line x1="48.40" y1="422.00" x2="75.60" y2="422.00" stroke="#666" stroke-width="1.0" stroke-linecap="butt"/>
<line x1="55.00" y1="418.00" x2="69.00" y2="418.00" stroke="#666" stroke-width="1.0" stroke-linecap="butt"/>
<line x1="55.00" y1="426.50" x2="69.00" y2="426.50" stroke="#666" stroke-width="1.0" stroke-linecap="butt"/>
<line x1="62.00" y1="418.00" x2="62.00" y2="426.50" stroke="#666" stroke-width="1.0" stroke-linecap="butt"/>
<line x1="90.10" y1="352.50" x2="117.30" y2="352.50" stroke="#666" stroke-width="1.0" stroke-linecap="butt"/>
<line x1="96.70" y1="345.60" x2="110.70" y2="345.60" stroke="#666" stroke-width="1.0" stroke-linecap="butt"/>
<line x1="96.70" y1="358.90" x2="110.70" y2="358.90" stroke="#666" stroke-width="1.0" stroke-linecap="butt"/>
<line x1="103.70" y1="345.60" x2="103.70" y2="358.90" stroke="#666" stroke-width="1.0" stroke-linecap="butt"/>
<line x1="161.30" y1="318.00" x2="161.30" y2="427.10" stroke="#000" stroke-width="1.2" stroke-linecap="butt"/>
<line x1="158.80" y1="426.50" x2="161.30" y2="426.50" stroke="#000" stroke-width="1.2" stroke-linecap="butt"/>
<text x="156.50" y="429.67" font-size="8.8" font-weight="bold" text-anchor="end" textLength="11.12" lengthAdjust="spacingAndGlyphs" fill="#000" stroke="#000" stroke-width="0.12">0.0</text>
<line x1="158.80" y1="390.53" x2="161.30" y2="390.53" stroke="#000" stroke-width="1.2" stroke-linecap="butt"/>
<text x="156.50" y="393.70" font-size="8.8" font-weight="bold" text-anchor="end" textLength="11.12" lengthAdjust="spacingAndGlyphs" fill="#000" stroke="#000" stroke-width="0.12">0.1</text>
<line x1="158.80" y1="354.57" x2="161.30" y2="354.57" stroke="#000" stroke-width="1.2" stroke-linecap="butt"/>
<text x="156.50" y="357.73" font-size="8.8" font-weight="bold" text-anchor="end" textLength="11.12" lengthAdjust="spacingAndGlyphs" fill="#000" stroke="#000" stroke-width="0.12">0.2</text>
<line x1="158.80" y1="318.60" x2="161.30" y2="318.60" stroke="#000" stroke-width="1.2" stroke-linecap="butt"/>
<text x="156.50" y="321.77" font-size="8.8" font-weight="bold" text-anchor="end" textLength="11.12" lengthAdjust="spacingAndGlyphs" fill="#000" stroke="#000" stroke-width="0.12">0.3</text>
<line x1="160.70" y1="426.50" x2="242.30" y2="426.50" stroke="#000" stroke-width="1.3" stroke-linecap="butt"/>
<line x1="181.50" y1="426.50" x2="181.50" y2="430.30" stroke="#000" stroke-width="1.0" stroke-linecap="butt"/>
<line x1="221.70" y1="426.50" x2="221.70" y2="430.30" stroke="#000" stroke-width="1.0" stroke-linecap="butt"/>
<text x="141.54" y="372.40" font-size="9.0" font-weight="bold" text-anchor="middle" transform="rotate(-90 141.54 372.40)" textLength="83.5" lengthAdjust="spacingAndGlyphs" fill="#000" stroke="#000" stroke-width="0.12">MEP (% of hCD45+)</text>
<text x="182.30" y="437.30" font-size="7.6" font-weight="bold" text-anchor="end" transform="rotate(-45 182.30 437.30)" fill="#000" stroke="#000" stroke-width="0.12">NC</text>
<text x="222.60" y="438.40" font-size="7.6" font-weight="bold" text-anchor="end" transform="rotate(-45 222.60 438.40)" fill="#000" stroke="#000" stroke-width="0.12">V617I</text>
<rect x="179.40" y="366.65" width="4.60" height="4.60" fill="#000"/>
<circle cx="181.90" cy="406.72" r="2.40" fill="#000"/>
<rect x="182.90" y="415.21" width="4.60" height="4.60" fill="#000"/>
<circle cx="178.50" cy="421.11" r="2.40" fill="#000"/>
<polygon points="218.50,357.43 221.10,352.49 215.90,352.49" fill="#000"/>
<polygon points="225.10,357.43 227.70,352.49 222.50,352.49" fill="#000"/>
<polygon points="221.80,370.77 224.40,375.71 219.20,375.71" fill="#000"/>
<polygon points="221.70,398.10 224.30,403.04 219.10,403.04" fill="#000"/>
<circle cx="218.50" cy="410.31" r="2.40" fill="#000"/>
<circle cx="225.20" cy="413.91" r="2.40" fill="#000"/>
<circle cx="225.20" cy="422.54" r="2.40" fill="#000"/>
<polygon points="218.50,423.28 221.72,426.50 218.50,429.72 215.28,426.50" fill="#000"/>
<line x1="167.90" y1="403.48" x2="195.10" y2="403.48" stroke="#666" stroke-width="1.0" stroke-linecap="butt"/>
<line x1="174.50" y1="391.61" x2="188.50" y2="391.61" stroke="#666" stroke-width="1.0" stroke-linecap="butt"/>
<line x1="174.50" y1="415.35" x2="188.50" y2="415.35" stroke="#666" stroke-width="1.0" stroke-linecap="butt"/>
<line x1="181.50" y1="391.61" x2="181.50" y2="415.35" stroke="#666" stroke-width="1.0" stroke-linecap="butt"/>
<line x1="208.10" y1="394.13" x2="235.30" y2="394.13" stroke="#666" stroke-width="1.0" stroke-linecap="butt"/>
<line x1="214.70" y1="383.70" x2="228.70" y2="383.70" stroke="#666" stroke-width="1.0" stroke-linecap="butt"/>
<line x1="214.70" y1="404.92" x2="228.70" y2="404.92" stroke="#666" stroke-width="1.0" stroke-linecap="butt"/>
<line x1="221.70" y1="383.70" x2="221.70" y2="404.92" stroke="#666" stroke-width="1.0" stroke-linecap="butt"/>
<line x1="282.00" y1="318.10" x2="282.00" y2="427.10" stroke="#000" stroke-width="1.2" stroke-linecap="butt"/>
<line x1="279.50" y1="426.50" x2="282.00" y2="426.50" stroke="#000" stroke-width="1.2" stroke-linecap="butt"/>
<text x="277.20" y="429.67" font-size="8.8" font-weight="bold" text-anchor="end" textLength="11.12" lengthAdjust="spacingAndGlyphs" fill="#000" stroke="#000" stroke-width="0.12">0.0</text>
<line x1="279.50" y1="404.94" x2="282.00" y2="404.94" stroke="#000" stroke-width="1.2" stroke-linecap="butt"/>
<text x="277.20" y="408.11" font-size="8.8" font-weight="bold" text-anchor="end" textLength="11.12" lengthAdjust="spacingAndGlyphs" fill="#000" stroke="#000" stroke-width="0.12">0.2</text>
<line x1="279.50" y1="383.38" x2="282.00" y2="383.38" stroke="#000" stroke-width="1.2" stroke-linecap="butt"/>
<text x="277.20" y="386.55" font-size="8.8" font-weight="bold" text-anchor="end" textLength="11.12" lengthAdjust="spacingAndGlyphs" fill="#000" stroke="#000" stroke-width="0.12">0.4</text>
<line x1="279.50" y1="361.82" x2="282.00" y2="361.82" stroke="#000" stroke-width="1.2" stroke-linecap="butt"/>
<text x="277.20" y="364.99" font-size="8.8" font-weight="bold" text-anchor="end" textLength="11.12" lengthAdjust="spacingAndGlyphs" fill="#000" stroke="#000" stroke-width="0.12">0.6</text>
<line x1="279.50" y1="340.26" x2="282.00" y2="340.26" stroke="#000" stroke-width="1.2" stroke-linecap="butt"/>
<text x="277.20" y="343.43" font-size="8.8" font-weight="bold" text-anchor="end" textLength="11.12" lengthAdjust="spacingAndGlyphs" fill="#000" stroke="#000" stroke-width="0.12">0.8</text>
<line x1="279.50" y1="318.70" x2="282.00" y2="318.70" stroke="#000" stroke-width="1.2" stroke-linecap="butt"/>
<text x="277.20" y="321.87" font-size="8.8" font-weight="bold" text-anchor="end" textLength="11.12" lengthAdjust="spacingAndGlyphs" fill="#000" stroke="#000" stroke-width="0.12">1.0</text>
<line x1="281.40" y1="426.50" x2="366.20" y2="426.50" stroke="#000" stroke-width="1.3" stroke-linecap="butt"/>
<line x1="303.70" y1="426.50" x2="303.70" y2="430.30" stroke="#000" stroke-width="1.0" stroke-linecap="butt"/>
<line x1="346.00" y1="426.50" x2="346.00" y2="430.30" stroke="#000" stroke-width="1.0" stroke-linecap="butt"/>
<text x="261.54" y="372.40" font-size="9.0" font-weight="bold" text-anchor="middle" transform="rotate(-90 261.54 372.40)" textLength="83.5" lengthAdjust="spacingAndGlyphs" fill="#000" stroke="#000" stroke-width="0.12">GMP (% of hCD45+)</text>
<text x="304.50" y="437.30" font-size="7.6" font-weight="bold" text-anchor="end" transform="rotate(-45 304.50 437.30)" fill="#000" stroke="#000" stroke-width="0.12">NC</text>
<text x="346.90" y="438.40" font-size="7.6" font-weight="bold" text-anchor="end" transform="rotate(-45 346.90 438.40)" fill="#000" stroke="#000" stroke-width="0.12">V617I</text>
<rect x="298.10" y="380.00" width="4.60" height="4.60" fill="#000"/>
<rect x="304.80" y="382.16" width="4.60" height="4.60" fill="#000"/>
<circle cx="306.90" cy="404.94" r="2.40" fill="#000"/>
<circle cx="300.80" cy="409.25" r="2.40" fill="#000"/>
<polygon points="346.00,352.82 348.60,347.88 343.40,347.88" fill="#000"/>
<polygon points="346.00,361.12 348.60,366.06 343.40,366.06" fill="#000"/>
<polygon points="346.00,374.38 348.60,369.44 343.40,369.44" fill="#000"/>
<circle cx="342.70" cy="394.48" r="2.40" fill="#000"/>
<circle cx="349.40" cy="394.16" r="2.40" fill="#000"/>
<polygon points="342.70,396.69 345.30,401.63 340.10,401.63" fill="#000"/>
<polygon points="349.40,402.26 352.62,405.48 349.40,408.70 346.18,405.48" fill="#000"/>
<circle cx="346.00" cy="417.88" r="2.40" fill="#000"/>
<line x1="290.10" y1="395.24" x2="317.30" y2="395.24" stroke="#666" stroke-width="1.0" stroke-linecap="butt"/>
<line x1="296.70" y1="388.23" x2="310.70" y2="388.23" stroke="#666" stroke-width="1.0" stroke-linecap="butt"/>
<line x1="296.70" y1="402.25" x2="310.70" y2="402.25" stroke="#666" stroke-width="1.0" stroke-linecap="butt"/>
<line x1="303.70" y1="388.23" x2="303.70" y2="402.25" stroke="#666" stroke-width="1.0" stroke-linecap="butt"/>
<line x1="332.40" y1="387.15" x2="359.60" y2="387.15" stroke="#666" stroke-width="1.0" stroke-linecap="butt"/>
<line x1="339.00" y1="379.07" x2="353.00" y2="379.07" stroke="#666" stroke-width="1.0" stroke-linecap="butt"/>
<line x1="339.00" y1="395.24" x2="353.00" y2="395.24" stroke="#666" stroke-width="1.0" stroke-linecap="butt"/>
<line x1="346.00" y1="379.07" x2="346.00" y2="395.24" stroke="#666" stroke-width="1.0" stroke-linecap="butt"/>
<line x1="409.40" y1="318.10" x2="409.40" y2="427.10" stroke="#000" stroke-width="1.2" stroke-linecap="butt"/>
<line x1="406.90" y1="426.50" x2="409.40" y2="426.50" stroke="#000" stroke-width="1.2" stroke-linecap="butt"/>
<text x="404.60" y="429.67" font-size="8.8" font-weight="bold" text-anchor="end" textLength="11.12" lengthAdjust="spacingAndGlyphs" fill="#000" stroke="#000" stroke-width="0.12">0.0</text>
<line x1="406.90" y1="399.55" x2="409.40" y2="399.55" stroke="#000" stroke-width="1.2" stroke-linecap="butt"/>
<text x="404.60" y="402.72" font-size="8.8" font-weight="bold" text-anchor="end" textLength="11.12" lengthAdjust="spacingAndGlyphs" fill="#000" stroke="#000" stroke-width="0.12">0.1</text>
<line x1="406.90" y1="372.60" x2="409.40" y2="372.60" stroke="#000" stroke-width="1.2" stroke-linecap="butt"/>
<text x="404.60" y="375.77" font-size="8.8" font-weight="bold" text-anchor="end" textLength="11.12" lengthAdjust="spacingAndGlyphs" fill="#000" stroke="#000" stroke-width="0.12">0.2</text>
<line x1="406.90" y1="345.65" x2="409.40" y2="345.65" stroke="#000" stroke-width="1.2" stroke-linecap="butt"/>
<text x="404.60" y="348.82" font-size="8.8" font-weight="bold" text-anchor="end" textLength="11.12" lengthAdjust="spacingAndGlyphs" fill="#000" stroke="#000" stroke-width="0.12">0.3</text>
<line x1="406.90" y1="318.70" x2="409.40" y2="318.70" stroke="#000" stroke-width="1.2" stroke-linecap="butt"/>
<text x="404.60" y="321.87" font-size="8.8" font-weight="bold" text-anchor="end" textLength="11.12" lengthAdjust="spacingAndGlyphs" fill="#000" stroke="#000" stroke-width="0.12">0.4</text>
<line x1="408.80" y1="426.50" x2="491.30" y2="426.50" stroke="#000" stroke-width="1.3" stroke-linecap="butt"/>
<line x1="430.40" y1="426.50" x2="430.40" y2="430.30" stroke="#000" stroke-width="1.0" stroke-linecap="butt"/>
<line x1="471.20" y1="426.50" x2="471.20" y2="430.30" stroke="#000" stroke-width="1.0" stroke-linecap="butt"/>
<text x="391.54" y="372.40" font-size="9.0" font-weight="bold" text-anchor="middle" transform="rotate(-90 391.54 372.40)" textLength="83.5" lengthAdjust="spacingAndGlyphs" fill="#000" stroke="#000" stroke-width="0.12">CMP (% of hCD45+)</text>
<text x="431.20" y="437.30" font-size="7.6" font-weight="bold" text-anchor="end" transform="rotate(-45 431.20 437.30)" fill="#000" stroke="#000" stroke-width="0.12">NC</text>
<text x="472.10" y="438.40" font-size="7.6" font-weight="bold" text-anchor="end" transform="rotate(-45 472.10 438.40)" fill="#000" stroke="#000" stroke-width="0.12">V617I</text>
<rect x="428.10" y="387.28" width="4.60" height="4.60" fill="#000"/>
<rect x="424.60" y="404.80" width="4.60" height="4.60" fill="#000"/>
<circle cx="434.00" cy="411.68" r="2.40" fill="#000"/>
<circle cx="430.40" cy="419.49" r="2.40" fill="#000"/>
<polygon points="467.50,368.18 470.10,363.24 464.90,363.24" fill="#000"/>
<polygon points="474.20,368.39 476.80,373.33 471.60,373.33" fill="#000"/>
<polygon points="471.20,391.63 473.80,386.69 468.60,386.69" fill="#000"/>
<polygon points="464.40,403.97 467.00,408.91 461.80,408.91" fill="#000"/>
<circle cx="477.90" cy="406.83" r="2.40" fill="#000"/>
<circle cx="471.20" cy="411.68" r="2.40" fill="#000"/>
<circle cx="474.40" cy="421.65" r="2.40" fill="#000"/>
<polygon points="467.70,423.28 470.92,426.50 467.70,429.72 464.48,426.50" fill="#000"/>
<line x1="416.80" y1="406.83" x2="444.00" y2="406.83" stroke="#666" stroke-width="1.0" stroke-linecap="butt"/>
<line x1="423.40" y1="400.36" x2="437.40" y2="400.36" stroke="#666" stroke-width="1.0" stroke-linecap="butt"/>
<line x1="423.40" y1="413.29" x2="437.40" y2="413.29" stroke="#666" stroke-width="1.0" stroke-linecap="butt"/>
<line x1="430.40" y1="400.36" x2="430.40" y2="413.29" stroke="#666" stroke-width="1.0" stroke-linecap="butt"/>
<line x1="457.60" y1="400.09" x2="484.80" y2="400.09" stroke="#666" stroke-width="1.0" stroke-linecap="butt"/>
<line x1="464.20" y1="392.27" x2="478.20" y2="392.27" stroke="#666" stroke-width="1.0" stroke-linecap="butt"/>
<line x1="464.20" y1="407.63" x2="478.20" y2="407.63" stroke="#666" stroke-width="1.0" stroke-linecap="butt"/>
<line x1="471.20" y1="392.27" x2="471.20" y2="407.63" stroke="#666" stroke-width="1.0" stroke-linecap="butt"/>
<rect x="486.80" y="322.00" width="5.00" height="5.00" fill="#000"/>
<text x="496.40" y="327.30" font-size="7.8" font-weight="bold" text-anchor="start" fill="#000" stroke="#000" stroke-width="0.12">NBM1</text>
<circle cx="489.30" cy="336.40" r="2.50" fill="#000"/>
<text x="496.40" y="339.20" font-size="7.8" font-weight="bold" text-anchor="start" fill="#000" stroke="#000" stroke-width="0.12">NBM2</text>
<polygon points="489.30,344.35 491.80,349.10 486.80,349.10" fill="#000"/>
<text x="496.40" y="349.90" font-size="7.8" font-weight="bold" text-anchor="start" fill="#000" stroke="#000" stroke-width="0.12">C1</text>
<polygon points="489.30,360.25 491.80,355.50 486.80,355.50" fill="#000"/>
<text x="496.40" y="360.30" font-size="7.8" font-weight="bold" text-anchor="start" fill="#000" stroke="#000" stroke-width="0.12">C2</text>
<circle cx="489.30" cy="367.20" r="2.50" fill="#000"/>
<text x="496.40" y="370.00" font-size="7.8" font-weight="bold" text-anchor="start" fill="#000" stroke="#000" stroke-width="0.12">C3</text>
<polygon points="489.30,374.52 492.18,377.40 489.30,380.27 486.43,377.40" fill="#000"/>
<text x="496.40" y="380.20" font-size="7.8" font-weight="bold" text-anchor="start" fill="#000" stroke="#000" stroke-width="0.12">C4</text>
</svg>
</body></html>
